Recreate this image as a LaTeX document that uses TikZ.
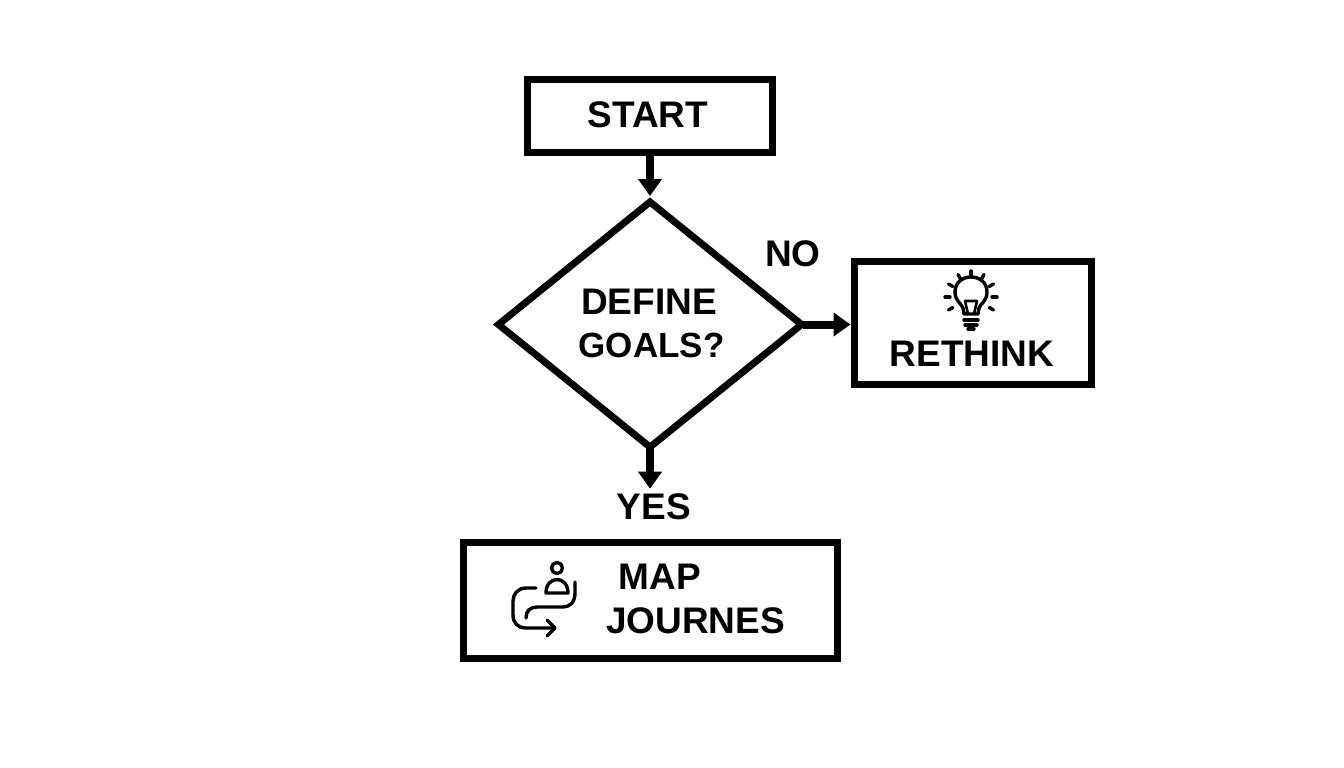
\documentclass[tikz,border=0pt]{standalone}
\usepackage{fontspec}
\setmainfont{Liberation Sans}
\usetikzlibrary{arrows.meta,shapes.geometric}
\tikzset{
	flowbox/.style={draw=black, line width=7pt, inner sep=0pt},
	flowtext/.style={font=\bfseries\fontsize{37}{43}\selectfont, align=center, inner sep=0pt},
	flowarrow/.style={line width=8pt, shorten <=-4pt, -{Triangle[length=17pt,width=23pt]}},
	iconline/.style={line width=3.4pt, line cap=round, line join=round},
}
\begin{document}
\begin{tikzpicture}[
	x=1pt,
	y=-1pt,
	]
	\useasboundingbox (0,0) rectangle (1344,768);
	\node [flowbox, minimum width=245pt, minimum height=73pt] (start) at (650,116) {};
	\node [flowtext] (starttext) at (648,115) {START};
	\node [draw=black, line width=7pt, diamond, inner sep=0pt, minimum width=306pt, minimum height=248pt] (goals) at (650,324.5) {};
	\node [flowtext] (definetext) at (649,302) {DEFINE};
	\node [flowtext, font=\bfseries\fontsize{35}{43}\selectfont] (goalstext) at (651.5,345) {GOALS?};
	\node [flowbox, minimum width=237pt, minimum height=123pt] (rethink) at (972.5,323) {};
	\node [flowtext] (rethinktext) at (972,354) {RETHINK};
	\node [flowbox, minimum width=374pt, minimum height=116pt] (map) at (650.5,600.5) {};
	\node [flowtext] (maptext) at (660,577) {MAP};
	\node [flowtext] (journeystext) at (695.5,621) {JOURNES};
	\node [flowtext] (no) at (793,254) {NO};
	\node [flowtext, inner sep=5pt] (yes) at (654,507) {YES};
	\draw [flowarrow, shorten >=1pt] (start.south) -- (goals.north);
	\draw [flowarrow] (goals.east) -- (goals.east -| rethink.west);
	\draw [flowarrow] (goals.south) -- (goals.south |- yes.north);
	% bulb
	\draw [iconline] (964,314) -- (963,308) .. controls (961,303) and (955,301) .. (955,292) .. controls (955,272) and (987,272) .. (987,292) .. controls (987,301) and (981,303) .. (979,308) -- (978,314) -- cycle;
	\draw [line width=2.6pt, line join=round] (968,314) -- (965,301) -- (977,301) -- (974,314);
	\draw [iconline] (964,320) -- (978,320);
	\draw [iconline] (965,325) -- (977,325);
	\draw [iconline] (968,329) -- (974,329);
	\foreach \ang in {150,180,210,240,270,300,330,360,30}
		\draw [iconline] (971,297) ++(\ang:21) -- ++(\ang:5);
	% person on a route
	\draw [iconline] (557,568) circle [radius=5.5];
	\draw [iconline] (546,593) .. controls (546,575) and (568,575) .. (568,593) -- cycle;
	\draw [iconline] (575,582) -- (575,593) .. controls (575,602) and (570,607) .. (563,607) -- (537,607) .. controls (530,607) and (526,611) .. (526,618);
	\draw [iconline] (536,588) -- (526,588) .. controls (518,588) and (513,594) .. (513,601) -- (513,615) .. controls (513,623) and (518,628) .. (526,628) -- (555,628);
	\draw [iconline] (547,620) -- (555,628) -- (547,636);
\end{tikzpicture}
\end{document}
